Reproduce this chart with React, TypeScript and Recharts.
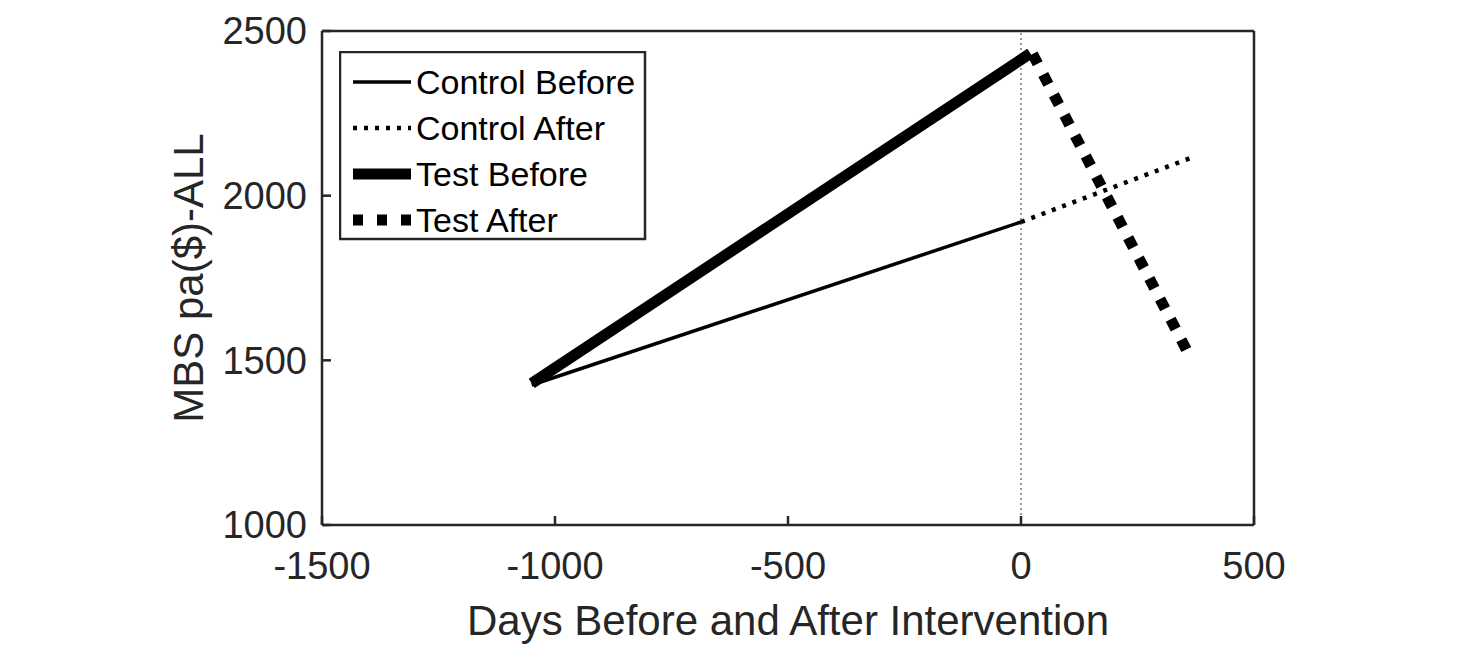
import { LineChart, Line, XAxis, YAxis, ReferenceLine, Legend } from "recharts";

// days relative to intervention / MBS per annum ($)
const controlBeforeDays = [-1050, 0];
const controlBeforeMbs = [1425, 1920];
const controlAfterDays = [0, 365];
const controlAfterMbs = [1920, 2115];
const testBeforeDays = [-1050, 20];
const testBeforeMbs = [1430, 2432];
const testAfterDays = [25, 365];
const testAfterMbs = [2430, 1505];

const xTicks = [-1500, -1000, -500, 0, 500];
const yTicks = [1000, 1500, 2000, 2500];

const toRows = (days: number[], mbs: number[]) =>
  days.map((d, i) => ({ day: d, mbs: mbs[i] }));

const series = [
  { name: "Control Before", data: toRows(controlBeforeDays, controlBeforeMbs), width: 3.5, dash: undefined },
  { name: "Control After", data: toRows(controlAfterDays, controlAfterMbs), width: 4.5, dash: "4 7" },
  { name: "Test Before", data: toRows(testBeforeDays, testBeforeMbs), width: 11, dash: undefined },
  { name: "Test After", data: toRows(testAfterDays, testAfterMbs), width: 11, dash: "11 12" },
];

const ink = "#262626";
const font = "'Liberation Sans', Arial, Helvetica, sans-serif";

function LegendBox() {
  return (
    <svg width={308} height={190} style={{ display: "block" }}>
      <rect x={1} y={1} width={305} height={187} fill="#fff" stroke={ink} strokeWidth={2.5} />
      {series.map((s, i) => {
        const y = 31 + i * 46;
        return (
          <g key={s.name}>
            <line
              x1={14}
              x2={72}
              y1={y}
              y2={y}
              stroke="#000"
              strokeWidth={s.width}
              strokeDasharray={s.dash === "11 12" ? "10 14" : s.dash}
            />
            <text x={77} y={y} dominantBaseline="central" fontSize={34} fontFamily={font} fill="#000">
              {s.name}
            </text>
          </g>
        );
      })}
    </svg>
  );
}

export default function App() {
  const tickStyle = { fill: ink, fontSize: 38, fontFamily: font };
  return (
    <div style={{ width: 1470, height: 668, background: "#fff", fontFamily: font }}>
      <style>{`body{margin:0}`}</style>
      <LineChart width={1470} height={668} margin={{ top: 30, right: 215, bottom: 23, left: 222 }}>
        <XAxis
          dataKey="day"
          type="number"
          domain={[-1500, 500]}
          ticks={xTicks}
          allowDataOverflow
          height={120}
          tickSize={-9}
          tickMargin={36}
          tick={tickStyle}
          axisLine={{ stroke: ink, strokeWidth: 2.5 }}
          tickLine={{ stroke: ink, strokeWidth: 2.5 }}
          label={{
            value: "Days Before and After Intervention",
            position: "center",
            dy: 35,
            fill: ink,
            fontSize: 42,
            fontFamily: font,
          }}
        />
        <XAxis
          xAxisId="top"
          orientation="top"
          type="number"
          domain={[-1500, 500]}
          ticks={xTicks}
          allowDataOverflow
          height={1}
          tickSize={-9}
          tick={false}
          axisLine={{ stroke: ink, strokeWidth: 2.5 }}
          tickLine={{ stroke: ink, strokeWidth: 2.5 }}
        />
        <YAxis
          type="number"
          domain={[1000, 2500]}
          ticks={yTicks}
          allowDataOverflow
          width={100}
          tickSize={-9}
          tickMargin={24}
          tick={tickStyle}
          axisLine={{ stroke: ink, strokeWidth: 2.5 }}
          tickLine={{ stroke: ink, strokeWidth: 2.5 }}
          label={{
            value: "MBS pa($)-ALL",
            angle: -90,
            position: "center",
            dx: -84,
            fill: ink,
            fontSize: 42,
            fontFamily: font,
          }}
        />
        <YAxis
          yAxisId="right"
          orientation="right"
          type="number"
          domain={[1000, 2500]}
          ticks={yTicks}
          allowDataOverflow
          width={1}
          tickSize={-9}
          tick={false}
          axisLine={{ stroke: ink, strokeWidth: 2.5 }}
          tickLine={{ stroke: ink, strokeWidth: 2.5 }}
        />
        <ReferenceLine x={0} stroke="#555" strokeWidth={1.2} strokeDasharray="2 3" />
        {series.map((s) => (
          <Line
            key={s.name}
            data={s.data}
            dataKey="mbs"
            name={s.name}
            type="linear"
            stroke="#000"
            strokeWidth={s.width}
            strokeDasharray={s.dash}
            dot={false}
            activeDot={false}
            isAnimationActive={false}
          />
        ))}
        <Legend
          layout="vertical"
          align="center"
          verticalAlign="middle"
          content={() => <LegendBox />}
          wrapperStyle={{ left: 339, top: 51, width: 308, height: 190 }}
        />
      </LineChart>
    </div>
  );
}
